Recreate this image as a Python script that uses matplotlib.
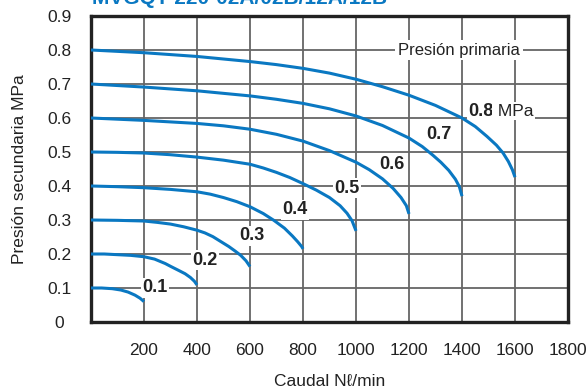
import matplotlib
matplotlib.use("Agg")
import matplotlib.pyplot as plt

plt.rcParams['font.family'] = ['Liberation Sans', 'DejaVu Sans']

# ---- data ----
x_ticks = [0, 200, 400, 600, 800, 1000, 1200, 1400, 1600, 1800]
x_ticklabels = ['', '200', '400', '600', '800', '1000', '1200', '1400', '1600', '1800']
y_ticks = [0, 0.1, 0.2, 0.3, 0.4, 0.5, 0.6, 0.7, 0.8, 0.9]
y_ticklabels = ['0', '0.1', '0.2', '0.3', '0.4', '0.5', '0.6', '0.7', '0.8', '0.9']

primary = ['0.1', '0.2', '0.3', '0.4', '0.5', '0.6', '0.7', '0.8']

q01 = [0, 40, 80, 113, 140, 166, 185, 200]
p01 = [0.100, 0.100, 0.098, 0.094, 0.088, 0.079, 0.070, 0.060]
q02 = [0, 50, 100, 150, 200, 240, 280, 302, 330, 355, 375, 390, 400]
p02 = [0.200, 0.200, 0.198, 0.196, 0.192, 0.185, 0.172, 0.163, 0.152, 0.142, 0.131, 0.120, 0.109]
q03 = [0, 100, 200, 250, 300, 350, 400, 430, 460, 491, 520, 545, 565, 585, 600]
p03 = [0.300, 0.299, 0.297, 0.293, 0.288, 0.280, 0.270, 0.262, 0.251, 0.236, 0.222, 0.208, 0.196, 0.180, 0.163]
q04 = [0, 100, 200, 300, 400, 450, 500, 550, 600, 650, 690, 730, 760, 780, 795, 800]
p04 = [0.400, 0.398, 0.395, 0.390, 0.383, 0.376, 0.366, 0.354, 0.339, 0.319, 0.299, 0.276, 0.253, 0.236, 0.222, 0.215]
q05 = [0, 100, 200, 300, 400, 500, 600, 650, 700, 750, 800, 850, 900, 940, 966, 985, 1000]
p05 = [0.500, 0.499, 0.497, 0.492, 0.485, 0.476, 0.464, 0.453, 0.440, 0.425, 0.407, 0.388, 0.366, 0.342, 0.320, 0.298, 0.268]
q06 = [0, 200, 400, 500, 600, 700, 800, 900, 1000, 1050, 1100, 1140, 1170, 1190, 1200]
p06 = [0.600, 0.593, 0.584, 0.577, 0.567, 0.552, 0.532, 0.504, 0.470, 0.448, 0.421, 0.393, 0.366, 0.342, 0.318]
q07 = [0, 200, 400, 600, 700, 800, 900, 1000, 1100, 1200, 1250, 1291, 1320, 1350, 1375, 1390, 1400]
p07 = [0.700, 0.691, 0.680, 0.665, 0.655, 0.643, 0.627, 0.606, 0.578, 0.541, 0.516, 0.490, 0.470, 0.446, 0.420, 0.398, 0.370]
q08 = [0, 200, 400, 600, 700, 800, 900, 1000, 1100, 1200, 1300, 1400, 1450, 1494, 1530, 1555, 1575, 1590, 1600]
p08 = [0.800, 0.792, 0.781, 0.766, 0.757, 0.746, 0.732, 0.714, 0.692, 0.667, 0.637, 0.600, 0.575, 0.546, 0.520, 0.497, 0.472, 0.448, 0.426]

curves_q = [q01, q02, q03, q04, q05, q06, q07, q08]
curves_p = [p01, p02, p03, p04, p05, p06, p07, p08]

# label anchor positions (layout)
label_pos = [(242, 0.100), (430, 0.182), (608, 0.253), (770, 0.330),
             (966, 0.394), (1136, 0.462), (1313, 0.550), (1423, 0.620)]

title = 'MVGQT 220-02A/02B/12A/12B'

# ---- figure ----
fig = plt.figure(figsize=(5.88, 3.92), dpi=100)
ax = fig.add_axes([91/588, 1-322/392, 477/588, 306/392])

blue = '#0a78c2'
dark = '#222222'
for q, p in zip(curves_q, curves_p):
    ax.plot(q, p, color=blue, lw=2.2, solid_capstyle='butt', solid_joinstyle='round', zorder=4)

bb = dict(facecolor='white', edgecolor='none', pad=1.0)
for lab, (x, y) in zip(primary[:-1], label_pos[:-1]):
    ax.text(x, y, lab, fontsize=13, fontweight='bold', ha='center', va='center',
            color=dark, bbox=bb, zorder=3)
x8, y8 = label_pos[-1]
t8 = ax.text(x8, y8, primary[-1], fontsize=13, fontweight='bold', ha='left', va='center',
             color=dark, bbox=bb, zorder=3)
ax.annotate(' MPa', xycoords=t8, xy=(1, 0.5), va='center', ha='left', fontsize=12.5,
            color=dark, bbox=bb, zorder=3)
ax.text(1389, 0.80, 'Presión primaria', fontsize=12, ha='center', va='center',
        color=dark, bbox=dict(facecolor='white', edgecolor='none', pad=2.0), zorder=3)

ax.set_xlim(0, 1800)
ax.set_ylim(0, 0.9)
ax.set_xticks(x_ticks)
ax.set_xticklabels(x_ticklabels)
ax.set_yticks(y_ticks)
ax.set_yticklabels(y_ticklabels, ha='center')
ax.tick_params(axis='both', length=0, labelsize=12.5, colors=dark)
ax.tick_params(axis='x', pad=15)
ax.tick_params(axis='y', pad=23)
ax.grid(True, color='#666666', lw=1.3, zorder=1)
ax.set_axisbelow(True)
for s in ax.spines.values():
    s.set_linewidth(2.4)
    s.set_color(dark)

ax.set_xlabel('Caudal N\u2113/min', fontsize=12.5, color=dark)
ax.xaxis.set_label_coords(0.5, -0.17)
ax.set_ylabel('Presión secundaria MPa', fontsize=12.5, color=dark, va='center')
ax.yaxis.set_label_coords(-0.149, 0.5)

fig.text(92/588, 1-4/392, title, fontsize=15, fontweight='bold', color=blue,
         ha='left', va='baseline')

fig.savefig('out.png', dpi=100)
